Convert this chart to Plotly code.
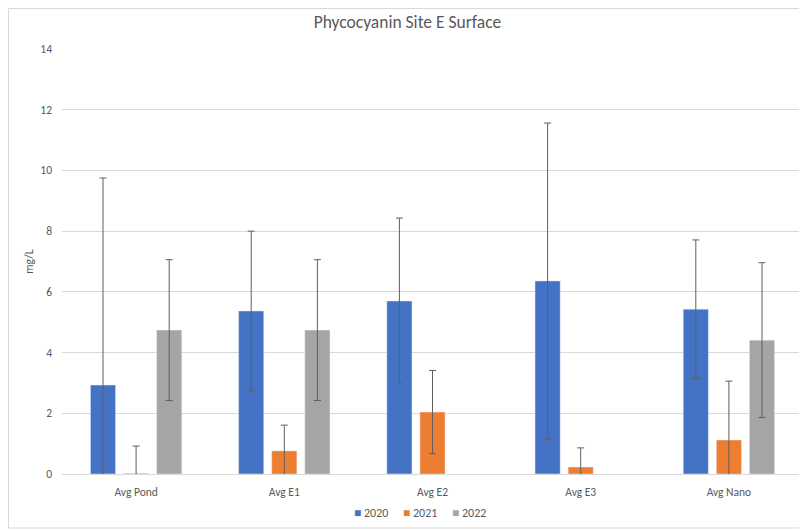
import plotly.graph_objects as go

categories = ["Avg Pond", "Avg E1", "Avg E2", "Avg E3", "Avg Nano"]
years = ["2020", "2021", "2022"]
values_2020 = [2.93, 5.37, 5.70, 6.36, 5.43]
values_2021 = [0.02, 0.76, 2.04, 0.23, 1.12]
values_2022 = [4.74, 4.74, None, None, 4.41]
err_2020 = [6.82, 2.63, 2.73, 5.20, 2.28]
err_2021 = [0.90, 0.85, 1.37, 0.63, 1.94]
err_2022 = [2.32, 2.32, None, None, 2.55]
colors = ["#4472C4", "#ED7D31", "#A5A5A5"]
y_ticks = [0, 2, 4, 6, 8, 10, 12, 14]

font_family = "Calibri, Carlito, Lato, 'Open Sans', sans-serif"
text_color = "#595959"

fig = go.Figure()
for name, vals, errs, col in zip(years, [values_2020, values_2021, values_2022],
                                 [err_2020, err_2021, err_2022], colors):
    fig.add_trace(go.Bar(
        name=name, x=categories, y=vals, marker_color=col,
        error_y=dict(type="data", array=errs, visible=True,
                     color="#5f5f5f", thickness=1, width=3.5),
    ))

# custom compact legend (Excel style), built from the series names/colours
legend_x = [0.417, 0.483, 0.549]
annotations = []
for name, col, lx in zip(years, colors, legend_x):
    annotations.append(dict(
        text=f"<span style='color:{col}'>■</span> {name}",
        x=lx, y=-0.092, xref="paper", yref="paper",
        xanchor="center", yanchor="middle", showarrow=False,
        font=dict(size=12, color=text_color, family=font_family)))

fig.update_layout(
    width=799, height=523, autosize=False,
    margin=dict(l=54, r=4, t=41, b=57, autoexpand=False),
    paper_bgcolor="white", plot_bgcolor="white",
    barmode="group", bargap=0.33, bargroupgap=0.24,
    showlegend=False,
    font=dict(family=font_family, color=text_color, size=11),
    title=dict(text="Phycocyanin Site E Surface", x=0.5, xref="container",
               y=1 - 14 / 523, yanchor="middle",
               font=dict(size=17.5, color=text_color, family=font_family)),
    yaxis=dict(range=[0, 14], tickvals=y_ticks, showgrid=True,
               gridcolor="#D9D9D9", gridwidth=1, zeroline=False,
               showline=False, ticks="", ticklen=0, ticklabelstandoff=9,
               tickfont=dict(size=11.5, color=text_color),
               title=dict(text="mg/L", font=dict(size=11.5, color=text_color), standoff=4)),
    xaxis=dict(showline=True, linecolor="#D9D9D9", linewidth=1, ticks="",
               ticklabelstandoff=7,
               tickfont=dict(size=11.5, color=text_color)),
    annotations=annotations,
    shapes=[dict(type="rect", xref="paper", yref="paper",
                 x0=-53.5 / 741, x1=1.02, y0=-0.127, y1=1 + 40.5 / 425,
                 line=dict(color="#D9D9D9", width=1), layer="below")],
)

fig.write_html("out.html")
